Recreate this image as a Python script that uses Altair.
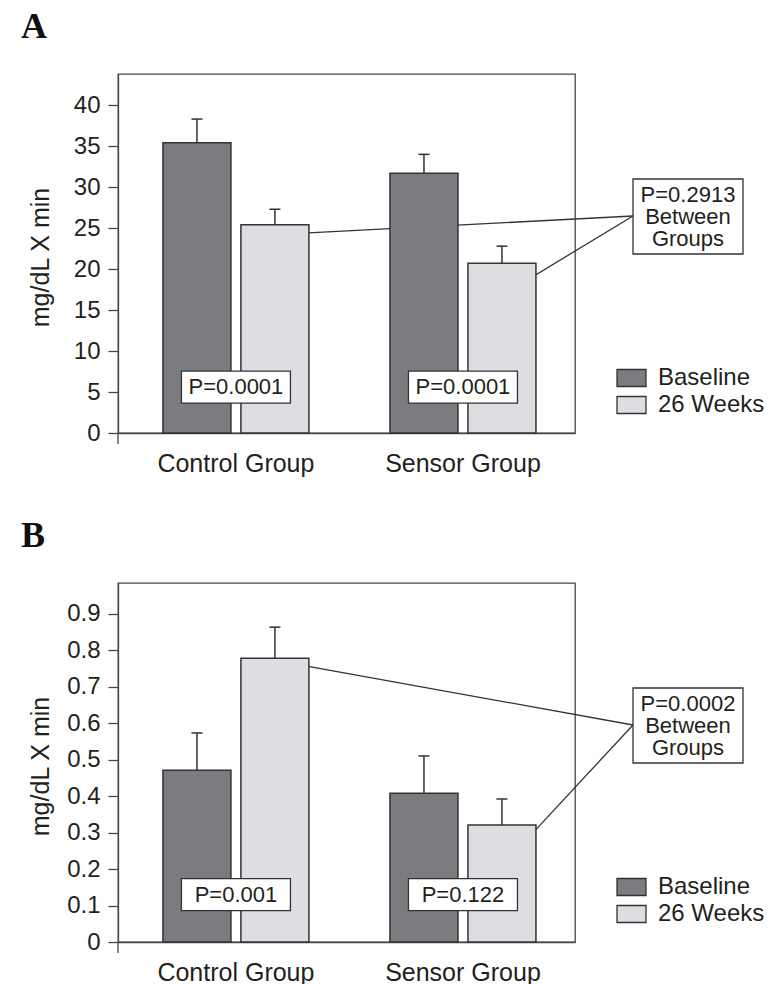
import altair as alt
import pandas as pd

# ---------------- data ----------------
groups = ["Control Group", "Sensor Group"]
conditions = ["Baseline", "26 Weeks"]
bar_groups = ["Control Group", "Control Group", "Sensor Group", "Sensor Group"]
bar_conditions = ["Baseline", "26 Weeks", "Baseline", "26 Weeks"]

a_means = [35.4, 25.4, 31.7, 20.7]
a_sems = [2.9, 1.9, 2.3, 2.1]
b_means = [0.471, 0.778, 0.408, 0.321]
b_sems = [0.102, 0.085, 0.102, 0.071]

a_within_p = ["P=0.0001", "P=0.0001"]
b_within_p = ["P=0.001", "P=0.122"]
a_within_y = [5.6, 5.6]
b_within_y = [0.13, 0.13]

a_between = ["P=0.2913", "Between", "Groups"]
b_between = ["P=0.0002", "Between", "Groups"]
leader_groups = ["Control Group", "Sensor Group"]
leader_conditions = ["26 Weeks", "26 Weeks"]
a_leader_y = [24.2, 16.8]
b_leader_y = [0.772, 0.208]

a_ticks = [0, 5, 10, 15, 20, 25, 30, 35, 40]
b_ticks = [0, 0.1, 0.2, 0.3, 0.4, 0.5, 0.6, 0.7, 0.8, 0.9]
a_ymax = 43.8
b_ymax = 0.984
y_title = "mg/dL X min"

# ---------------- style ----------------
W, H = 457, 359
FONT = "Liberation Sans"
INK = "#333333"
TEXT = "#231f20"
FRAME = "#4a4446"
FILLS = ["#7a7c80", "#dcdee1"]


def rect_path(half_h):
    return f"M-1,-{half_h}L1,-{half_h}L1,{half_h}L-1,{half_h}Z"


def panel(letter, means, sems, p_texts, p_y, between, leader_y, ticks, ymax, fmt):
    bars = pd.DataFrame({"group": bar_groups, "cond": bar_conditions,
                         "mean": means, "sem": sems})
    xs = alt.Scale(domain=groups, paddingInner=0.357, paddingOuter=0.185, align=0.535)
    xo = alt.Scale(domain=conditions, paddingInner=0.128, paddingOuter=0)
    ys = alt.Scale(domain=[0, ymax], nice=False, zero=True)
    xaxis = alt.Axis(title=None, labelAngle=0, ticks=False, tickSize=0,
                     labelFont=FONT, labelFontSize=25, labelColor=TEXT,
                     labelPadding=18, domainColor=FRAME, domainWidth=1.3, grid=False)
    yaxis = alt.Axis(title=y_title, values=ticks, format=fmt, grid=False,
                     tickSize=10, tickColor=FRAME, tickWidth=1.3,
                     domainColor=FRAME, domainWidth=1.3,
                     labelFont=FONT, labelFontSize=24, labelColor=TEXT, labelPadding=8,
                     titleFont=FONT, titleFontSize=25, titleFontWeight="normal",
                     titleColor=TEXT, titleX=-70, titleY=183,
                     titleBaseline="alphabetic")
    X = alt.X("group:N", scale=xs, axis=xaxis)
    XO = alt.XOffset("cond:N", scale=xo)

    def Y(f):
        return alt.Y(f"{f}:Q", scale=ys, axis=yaxis)

    color = alt.Color("cond:N", scale=alt.Scale(domain=conditions, range=FILLS), legend=None)

    leader_df = pd.DataFrame({"group": leader_groups, "cond": leader_conditions, "ly": leader_y})
    leaders = alt.Chart(leader_df).mark_rule(color=INK, strokeWidth=1.3).encode(
        x=X, xOffset=XO, y=Y("ly"), x2=alt.value(515), y2=alt.value(142))

    base = alt.Chart(bars)
    bar_layer = base.mark_bar(stroke=INK, strokeWidth=1.5).encode(
        x=X, xOffset=XO, y=Y("mean"), color=color)
    err = base.transform_calculate(top="datum.mean + datum.sem").mark_rule(
        color=INK, strokeWidth=1.5).encode(x=X, xOffset=XO, y=Y("mean"), y2="top:Q")
    caps = base.transform_calculate(top="datum.mean + datum.sem").mark_tick(
        color=INK, thickness=1.5, size=11, opacity=1).encode(x=X, xOffset=XO, y=Y("top"))

    p_df = pd.DataFrame({"group": groups, "p": p_texts, "py": p_y})
    pbox = alt.Chart(p_df).mark_point(
        shape=rect_path(0.294), size=109 * 109, filled=True, fill="white",
        stroke=INK, strokeWidth=1.3, opacity=1).encode(x=X, y=Y("py"))
    ptext = alt.Chart(p_df).mark_text(font=FONT, fontSize=22, color=TEXT).encode(
        x=X, y=Y("py"), text="p:N")

    one = pd.DataFrame({"t": ["\n".join(between)]})
    bbox = alt.Chart(one).mark_rect(fill="white", stroke=INK, strokeWidth=1.3).encode(
        x=alt.value(515), x2=alt.value(625), y=alt.value(105), y2=alt.value(180))
    btext = alt.Chart(one).mark_text(font=FONT, fontSize=22, color=TEXT,
                                     lineBreak="\n", lineHeight=22).encode(
        x=alt.value(570), y=alt.value(121), text="t:N")

    legend_layers = []
    for cond, ly in zip(conditions, [304, 331]):
        d = pd.DataFrame({"cond": [cond]})
        legend_layers.append(alt.Chart(d).mark_point(
            shape=rect_path(0.586), size=29 * 29, filled=True, stroke=INK,
            strokeWidth=1.3, opacity=1).encode(
            x=alt.value(513.5), y=alt.value(ly), color=color))
        legend_layers.append(alt.Chart(d).mark_text(
            font=FONT, fontSize=24, color=TEXT, align="left").encode(
            x=alt.value(540), y=alt.value(ly), text="cond:N"))

    lab = alt.Chart(pd.DataFrame({"t": [letter]})).mark_text(
        font="Liberation Serif", fontSize=36, fontWeight="bold", align="left",
        baseline="alphabetic", color="#111111").encode(
        x=alt.value(-97), y=alt.value(-36), text="t:N")

    ext = alt.Chart(pd.DataFrame({"t": [0]})).mark_rule(color=FRAME, strokeWidth=1.3).encode(
        x=alt.value(0), y=alt.value(H), y2=alt.value(H + 11))

    return alt.layer(leaders, bar_layer, err, caps, pbox, ptext, bbox, btext,
                     *legend_layers, lab, ext).properties(width=W, height=H)


pa = panel("A", a_means, a_sems, a_within_p, a_within_y, a_between, a_leader_y,
           a_ticks, a_ymax, "d")
pb = panel("B", b_means, b_sems, b_within_p, b_within_y, b_between, b_leader_y,
           b_ticks, b_ymax, ".1~f")

chart = alt.vconcat(pa, pb, spacing=40).configure_view(
    stroke=FRAME, strokeWidth=1.3).properties(
    padding={"left": 20, "top": 8, "right": 5, "bottom": 0},
    background="white")

chart.save("out.html", embed_options={"renderer": "svg", "actions": False})
